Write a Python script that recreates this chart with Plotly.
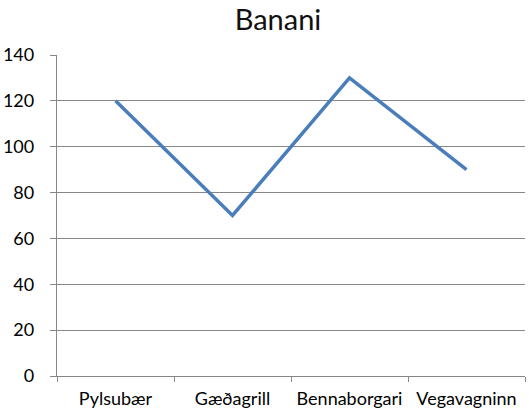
import plotly.graph_objects as go

categories = ["Pylsubær", "Gæðagrill", "Bennaborgari", "Vegavagninn"]
values = [120, 70, 130, 90]
y_ticks = [0, 20, 40, 60, 80, 100, 120, 140]

fig = go.Figure(
    go.Scatter(
        x=categories,
        y=values,
        mode="lines",
        line=dict(color="#4A7EBB", width=3.5),
        hoverinfo="skip",
    )
)

grid = "#878787"
fig.update_layout(
    width=529,
    height=416,
    margin=dict(l=57, r=4, t=55, b=40),
    paper_bgcolor="white",
    plot_bgcolor="white",
    font=dict(family="Lato, Open Sans, sans-serif", size=15, color="#000000"),
    showlegend=False,
    title=dict(
        text="Banani",
        x=278 / 529,
        xanchor="center",
        y=1 - 20 / 416,
        yanchor="middle",
        font=dict(size=29, color="#111111"),
    ),
)
fig.update_xaxes(
    type="category",
    range=[-0.5, len(categories) - 0.5],
    showgrid=False,
    showline=True,
    linecolor=grid,
    linewidth=1.3,
    ticks="outside",
    tickson="boundaries",
    ticklen=5,
    tickcolor=grid,
    tickwidth=1.3,
    ticklabelstandoff=6,
    tickfont=dict(size=18),
)
fig.update_yaxes(
    range=[0, 140],
    tickvals=y_ticks,
    showgrid=True,
    gridcolor=grid,
    gridwidth=1.3,
    zeroline=False,
    showline=True,
    linecolor=grid,
    linewidth=1.3,
    ticks="outside",
    ticklen=6,
    tickcolor=grid,
    tickwidth=1.3,
    ticklabelstandoff=12,
    tickfont=dict(size=18),
)

fig.write_html("out.html")
